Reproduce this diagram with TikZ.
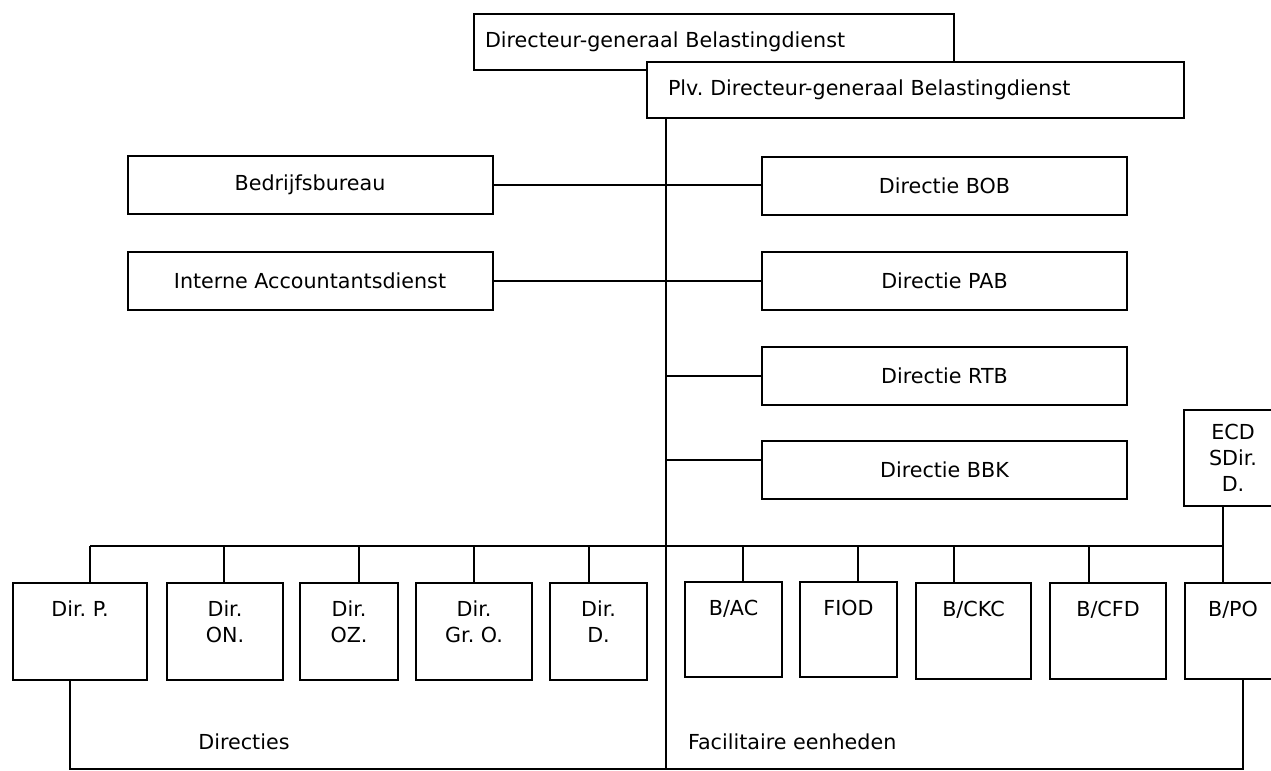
\documentclass[tikz,border=0pt]{standalone}
\usepackage{fontspec}
\setmainfont{DejaVu Sans}
\frenchspacing
\begin{document}
\begin{tikzpicture}[x=0.75pt,y=-0.75pt,line width=1.5pt,
  every node/.style={font=\fontsize{15.5}{19.5}\selectfont},
  box/.style={draw,line width=1.5pt,inner sep=0pt,fill=white},
  wide/.style={box,minimum width=273.75pt,minimum height=43.5pt},
  cell/.style 2 args={box,minimum width=#1*0.75pt,minimum height=#2*0.75pt},
  toptext/.style={label={[anchor=north,inner sep=0pt,align=center,yshift=-13.5pt]north:{#1}}}]
\useasboundingbox (0,0) rectangle (1271,771);
% top
\node (dg) at (714,42) [box,minimum height=42pt,text width=343.5pt,inner xsep=8.25pt,align=left] {Directeur-generaal Belastingdienst};
\node (plv) at (915.5,90) [box,minimum height=42pt,text width=371.25pt,inner xsep=15.75pt,align=left] {Plv. Directeur-generaal Belastingdienst};
% staff and directies
\node (bb) at (310,185) [wide] {Bedrijfsbureau};
\node (iad) at (310,281) [wide] {Interne Accountantsdienst};
\node (bob) at (944.5,186) [wide] {Directie BOB};
\node (pab) at (944.5,281) [wide] {Directie PAB};
\node (rtb) at (944.5,376) [wide] {Directie RTB};
\node (bbk) at (944.5,470) [wide] {Directie BBK};
\node (ecd) at (1233,458) [cell={98}{96},align=center] {ECD\\SDir.\\D.};
% bottom row
\node (dirp) at (80,631.5) [cell={134}{97},toptext={Dir. P.}] {};
\node (diron) at (225,631.5) [cell={116}{97},toptext={Dir.\\ON.}] {};
\node (diroz) at (349,631.5) [cell={98}{97},toptext={Dir.\\OZ.}] {};
\node (dirgro) at (474,631.5) [cell={116}{97},toptext={Dir.\\Gr. O.}] {};
\node (dird) at (598.5,631.5) [cell={97}{97},toptext={Dir.\\D.}] {};
\node (bac) at (733.5,629.5) [cell={97}{95},toptext={B/AC}] {};
\node (fiod) at (848.5,629.5) [cell={97}{95},toptext={FIOD}] {};
\node (bckc) at (973.5,631) [cell={115}{96},toptext={B/CKC}] {};
\node (bcfd) at (1108,631) [cell={116}{96},toptext={B/CFD}] {};
\node (bpo) at (1233,631) [cell={97}{96},toptext={B/PO}] {};
\node (dirtxt) at (244,742) {Directies};
\node (factxt) at (687,742) [anchor=west,inner sep=0pt] {Facilitaire eenheden};
% connectors
\coordinate (ttop) at (666,118);
\coordinate (tbot) at (666,769);
\draw (ttop) -- (tbot);
\draw (bb.east) -- (bb.east -| bob.west);
\draw (iad.east) -- (iad.east -| pab.west);
\draw (rtb.west) -- (rtb.west -| ttop);
\coordinate (bbkin) at ([yshift=7.5pt]bbk.west);
\draw (bbkin) -- (bbkin -| ttop);
\coordinate (busl) at (90,546);
\coordinate (busr) at (1223,546);
\draw (busl) -- (busr);
\foreach \n/\d in {dirp/7.5,diron/-0.75,diroz/7.5,dirgro/0,dird/-7.1,bac/7.1,fiod/7.1,bckc/-14.6,bcfd/-14.25}
  {\coordinate (dp) at ([xshift=\d pt]\n.north);
   \draw (dp) -- (dp |- busl);}
\draw ([xshift=-7.5pt]ecd.south) -- ([xshift=-7.5pt]bpo.north);
\coordinate (pl) at ([xshift=-7.5pt]dirp.south);
\coordinate (pr) at ([xshift=7.5pt]bpo.south);
\draw (pl) |- (tbot) -| (pr);
\end{tikzpicture}
\end{document}
